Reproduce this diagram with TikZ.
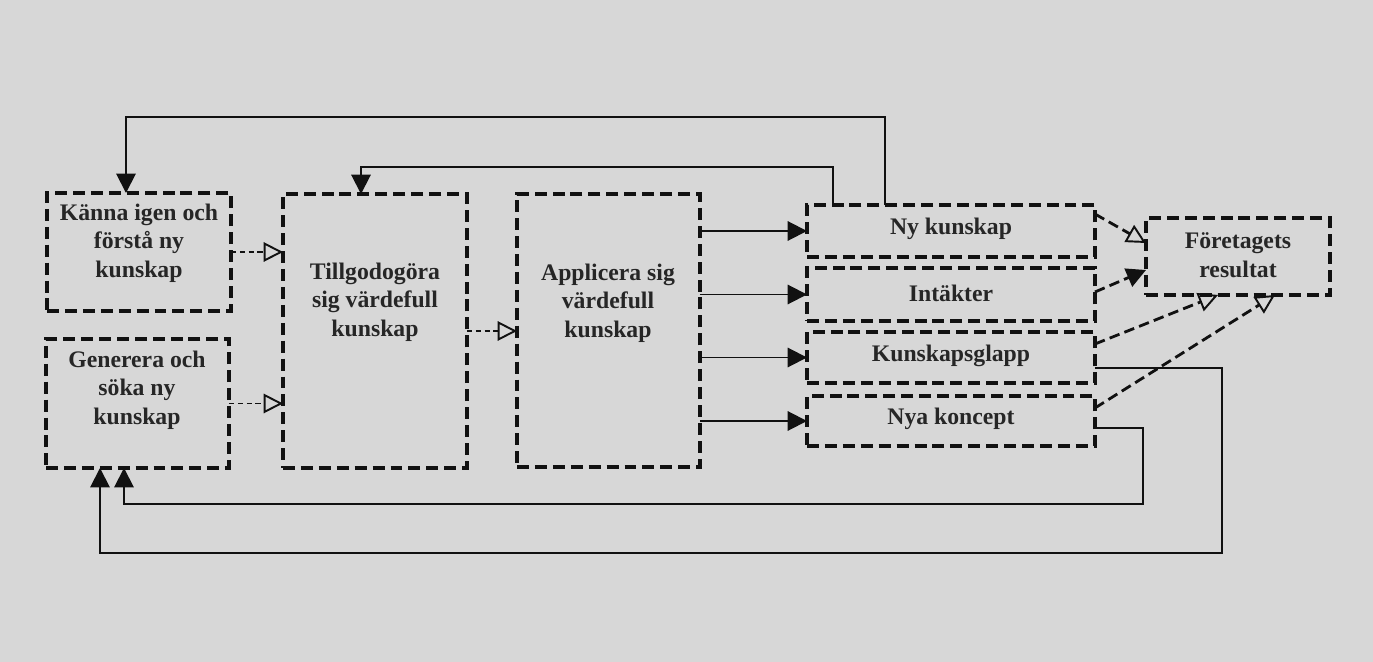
\documentclass[tikz,border=0pt]{standalone}
\usepackage{fontspec}
\setmainfont{Liberation Serif}
\usetikzlibrary{arrows.meta}
\definecolor{bgc}{HTML}{D7D7D7}
\definecolor{inkc}{HTML}{111111}
\definecolor{txtc}{HTML}{262626}
\tikzset{
  pbox/.style={draw=inkc, line width=1.8pt, dash pattern=on 6.8pt off 3.4pt, inner sep=0pt, outer sep=0pt},
  ptext/.style={text=txtc, font=\fontsize{13.5}{16.2}\selectfont\bfseries, align=center, inner sep=0pt},
  conn/.style={draw=inkc, line width=1.1pt},
  fillhead/.style={-{Triangle[length=11pt,width=11pt]}},
  openhead/.style={-{Triangle[open,length=11pt,width=11pt,line width=1.1pt]}},
  thindash/.style={draw=inkc, line width=1.1pt, dash pattern=on 3pt off 2pt},
  thickdash/.style={draw=inkc, line width=1.6pt, dash pattern=on 6pt off 3pt},
}
\begin{document}
\begin{tikzpicture}[x=0.02cm,y=-0.02cm]
\fill[bgc] (0,0) rectangle (1373,662);
\useasboundingbox (0,0) rectangle (1373,662);

% boxes
\node[pbox, minimum width=3.68cm, minimum height=2.36cm] (k) at (139,252) {};
\node[pbox, minimum width=3.66cm, minimum height=2.58cm] (g) at (137.5,403.5) {};
\node[pbox, minimum width=3.68cm, minimum height=5.48cm] (t) at (375,331) {};
\node[pbox, minimum width=3.66cm, minimum height=5.46cm] (a) at (608.5,330.5) {};
\node[pbox, minimum width=5.76cm, minimum height=1.04cm] (n) at (951,231) {};
\node[pbox, minimum width=5.76cm, minimum height=1.06cm] (i) at (951,294.5) {};
\node[pbox, minimum width=5.76cm, minimum height=1.02cm] (kg) at (951,357.5) {};
\node[pbox, minimum width=5.76cm, minimum height=1.00cm] (nk) at (951,421) {};
\node[pbox, minimum width=3.68cm, minimum height=1.54cm] (f) at (1238,256.5) {};

% texts
\node[ptext] (kt) at (139,243) {Känna igen och\\förstå ny\\kunskap};
\node[ptext] (gt) at (137,390) {Generera och\\söka ny\\kunskap};
\node[ptext] (tt) at (375,302) {Tillgodogöra\\sig värdefull\\kunskap};
\node[ptext] (at) at (608,303) {Applicera sig\\värdefull\\kunskap};
\node[ptext] (nt) at (951,229) {Ny kunskap};
\node[ptext] (it) at (951,293) {Intäkter};
\node[ptext] (kgt) at (951,356) {Kunskapsglapp};
\node[ptext] (nkt) at (951,419) {Nya koncept};
\node[ptext] (ft) at (1238,255) {Företagets\\resultat};

% dashed open arrows between left boxes
\draw[thindash, openhead] (k.east) -- (k.east -| t.west);
\draw[thindash, openhead] (g.east) -- (g.east -| t.west);
\draw[thindash, openhead] (t.east) -- (t.east -| a.west);

% solid arrows from Applicera
\draw[conn, fillhead] (a.east |- n) -- (n.west);
\draw[conn, fillhead] (a.east |- i) -- (i.west);
\draw[conn, fillhead] (a.east |- kg) -- (kg.west);
\draw[conn, fillhead] (a.east |- nk) -- (nk.west);

% feedback from Ny kunskap
\coordinate (c1) at (885,117);
\coordinate (c1b) at (126,117);
\draw[conn, fillhead] (n.north -| c1) -- (c1) -- (c1b) -- (c1b |- k.north);
\coordinate (c2) at (833,167);
\coordinate (c2b) at (361,167);
\draw[conn, fillhead] (n.north -| c2) -- (c2) -- (c2b) -- (c2b |- t.north);

% feedback from Kunskapsglapp and Nya koncept
\coordinate (c3) at (1222,553);
\coordinate (c3b) at (100,553);
\draw[conn, fillhead] ([yshift=-0.21cm]kg.east) -| (c3) -- (c3b) -- (c3b |- g.south);
\coordinate (c4) at (1143,504);
\coordinate (c4b) at (124,504);
\draw[conn, fillhead] ([yshift=-0.14cm]nk.east) -| (c4) -- (c4b) -- (c4b |- g.south);

% dashed arrows to Företagets resultat
\draw[thickdash, openhead] ([yshift=0.34cm]n.east) -- ([yshift=0.27cm]f.west);
\draw[thickdash, fillhead] ([yshift=0.05cm]i.east) -- ([yshift=-0.27cm]f.west);
\draw[thickdash, openhead] ([yshift=0.27cm]kg.east) -- ([xshift=-0.4cm]f.south);
\draw[thickdash, openhead] ([yshift=0.26cm]nk.east) -- ([xshift=0.74cm]f.south);
\end{tikzpicture}
\end{document}
